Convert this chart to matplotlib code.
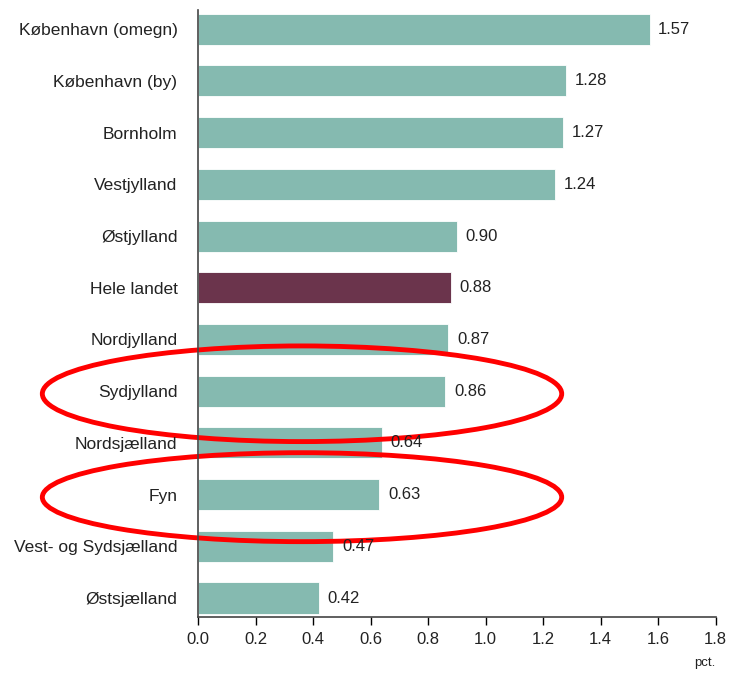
import matplotlib
matplotlib.use("Agg")
import matplotlib.pyplot as plt
from matplotlib.patches import Ellipse

plt.rcParams['font.family'] = ['Liberation Sans', 'DejaVu Sans']

regions = ['København (omegn)', 'København (by)', 'Bornholm', 'Vestjylland',
           'Østjylland', 'Hele landet', 'Nordjylland', 'Sydjylland',
           'Nordsjælland', 'Fyn', 'Vest- og Sydsjælland', 'Østsjælland']
values = [1.57, 1.28, 1.27, 1.24, 0.90, 0.88, 0.87, 0.86, 0.64, 0.63, 0.47, 0.42]
highlight = 'Hele landet'
circled = ['Sydjylland', 'Fyn']

teal = '#85bab0'
plum = '#6b344c'

fig = plt.figure(figsize=(7.37, 6.73), dpi=100)
ax = fig.add_axes([0.269, 0.083, 0.702, 0.902])

colors = [plum if r == highlight else teal for r in regions]
ypos = list(range(len(regions)))
ax.barh(ypos, values, height=0.6, color=colors, edgecolor='white', linewidth=0.6)

for y, v in zip(ypos, values):
    ax.text(v + 0.03, y, f'{v:.2f}', va='center', ha='left', fontsize=12, color='#222222')

ax.set_yticks(ypos)
ax.set_yticklabels(regions, fontsize=12.5, color='#222222')
ax.set_ylim(11.37, -0.37)
ax.set_xlim(0, 1.8)
ax.set_xticks([0.0, 0.2, 0.4, 0.6, 0.8, 1.0, 1.2, 1.4, 1.6, 1.8])
ax.set_xticklabels([f'{t:.1f}' for t in ax.get_xticks()], fontsize=12, color='#222222')
ax.tick_params(axis='y', length=0, pad=15)
ax.tick_params(axis='x', length=6, width=1, direction='out', pad=5)

for s in ['top', 'right']:
    ax.spines[s].set_visible(False)
ax.spines['left'].set_linewidth(1.2)
ax.spines['bottom'].set_linewidth(1.2)
ax.spines['left'].set_color('#444444')
ax.spines['bottom'].set_color('#444444')

ax.text(1.0, -0.065, 'pct.', transform=ax.transAxes, ha='right', va='top', fontsize=9.5, color='#222222')

# red ellipses around the highlighted regions
for name, h in zip(circled, [1.85, 1.72]):
    y = regions.index(name)
    e = Ellipse((0.361, y + 0.05), 1.807, h, fill=False, edgecolor='red', linewidth=3.5, clip_on=False)
    ax.add_patch(e)

fig.savefig('out.png', dpi=100)
